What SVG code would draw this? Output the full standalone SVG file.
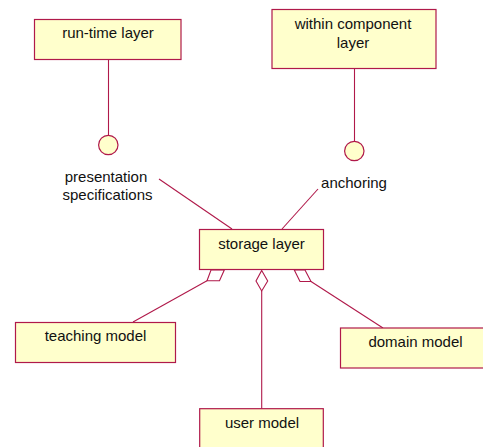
<svg xmlns="http://www.w3.org/2000/svg" width="483" height="447" viewBox="0 0 483 447">
<style>
.box{fill:#ffffcc;stroke:#b0194a;stroke-width:1.2}
.ln{fill:none;stroke:#b0194a;stroke-width:1.1}
.dia{fill:#ffffff;stroke:#b0194a;stroke-width:1.1}
.lol{fill:#ffffcc;stroke:#b0194a;stroke-width:1.2}
text{font-family:"Liberation Sans",Arial,sans-serif;font-size:15px;fill:#111;text-anchor:middle}
</style>
<rect x="0" y="0" width="483" height="447" fill="#ffffff"/>
<g id="connectors">
<line class="ln" x1="108.5" y1="59.5" x2="108.5" y2="135"/>
<line class="ln" x1="354.5" y1="68.5" x2="354.5" y2="141"/>
<line class="ln" x1="159" y1="179" x2="232" y2="229"/>
<line class="ln" x1="318" y1="189" x2="282" y2="229"/>
<line class="ln" x1="133" y1="322" x2="207" y2="280.7"/>
<line class="ln" x1="311" y1="281.5" x2="383" y2="328"/>
<line class="ln" x1="261.7" y1="291" x2="261.7" y2="408.7"/>
<polygon class="dia" points="211,270 224.3,270 219.5,280.7 207,280.7"/>
<polygon class="dia" points="294.3,270 305,270 311,281.5 300,281.5"/>
<polygon class="dia" points="261.7,270.5 267.7,281 261.7,291 256,281"/>
</g>
<g id="run-time-layer">
<rect class="box" x="34.5" y="19.5" width="146.5" height="40"/>
<text x="108" y="38">run-time layer</text>
</g>
<g id="within-component-layer">
<rect class="box" x="272" y="9.5" width="164" height="59"/>
<text x="353" y="29">within component</text>
<text x="353" y="48">layer</text>
</g>
<g id="presentation-specifications">
<circle class="lol" cx="108.3" cy="145" r="9.7"/>
<text x="106" y="182">presentation</text>
<text x="107.5" y="200">specifications</text>
</g>
<g id="anchoring">
<circle class="lol" cx="354.3" cy="151" r="9.7"/>
<text x="354" y="187.5">anchoring</text>
</g>
<g id="storage-layer">
<rect class="box" x="199.5" y="229.5" width="124" height="40"/>
<text x="261.5" y="249.3">storage layer</text>
</g>
<g id="teaching-model">
<rect class="box" x="15.5" y="322.5" width="160" height="40"/>
<text x="95.5" y="341">teaching model</text>
</g>
<g id="domain-model">
<rect class="box" x="340.5" y="328" width="146" height="40"/>
<text x="415.5" y="347">domain model</text>
</g>
<g id="user-model">
<rect class="box" x="199.7" y="408.7" width="123.6" height="45"/>
<text x="262" y="428">user model</text>
</g>
</svg>
